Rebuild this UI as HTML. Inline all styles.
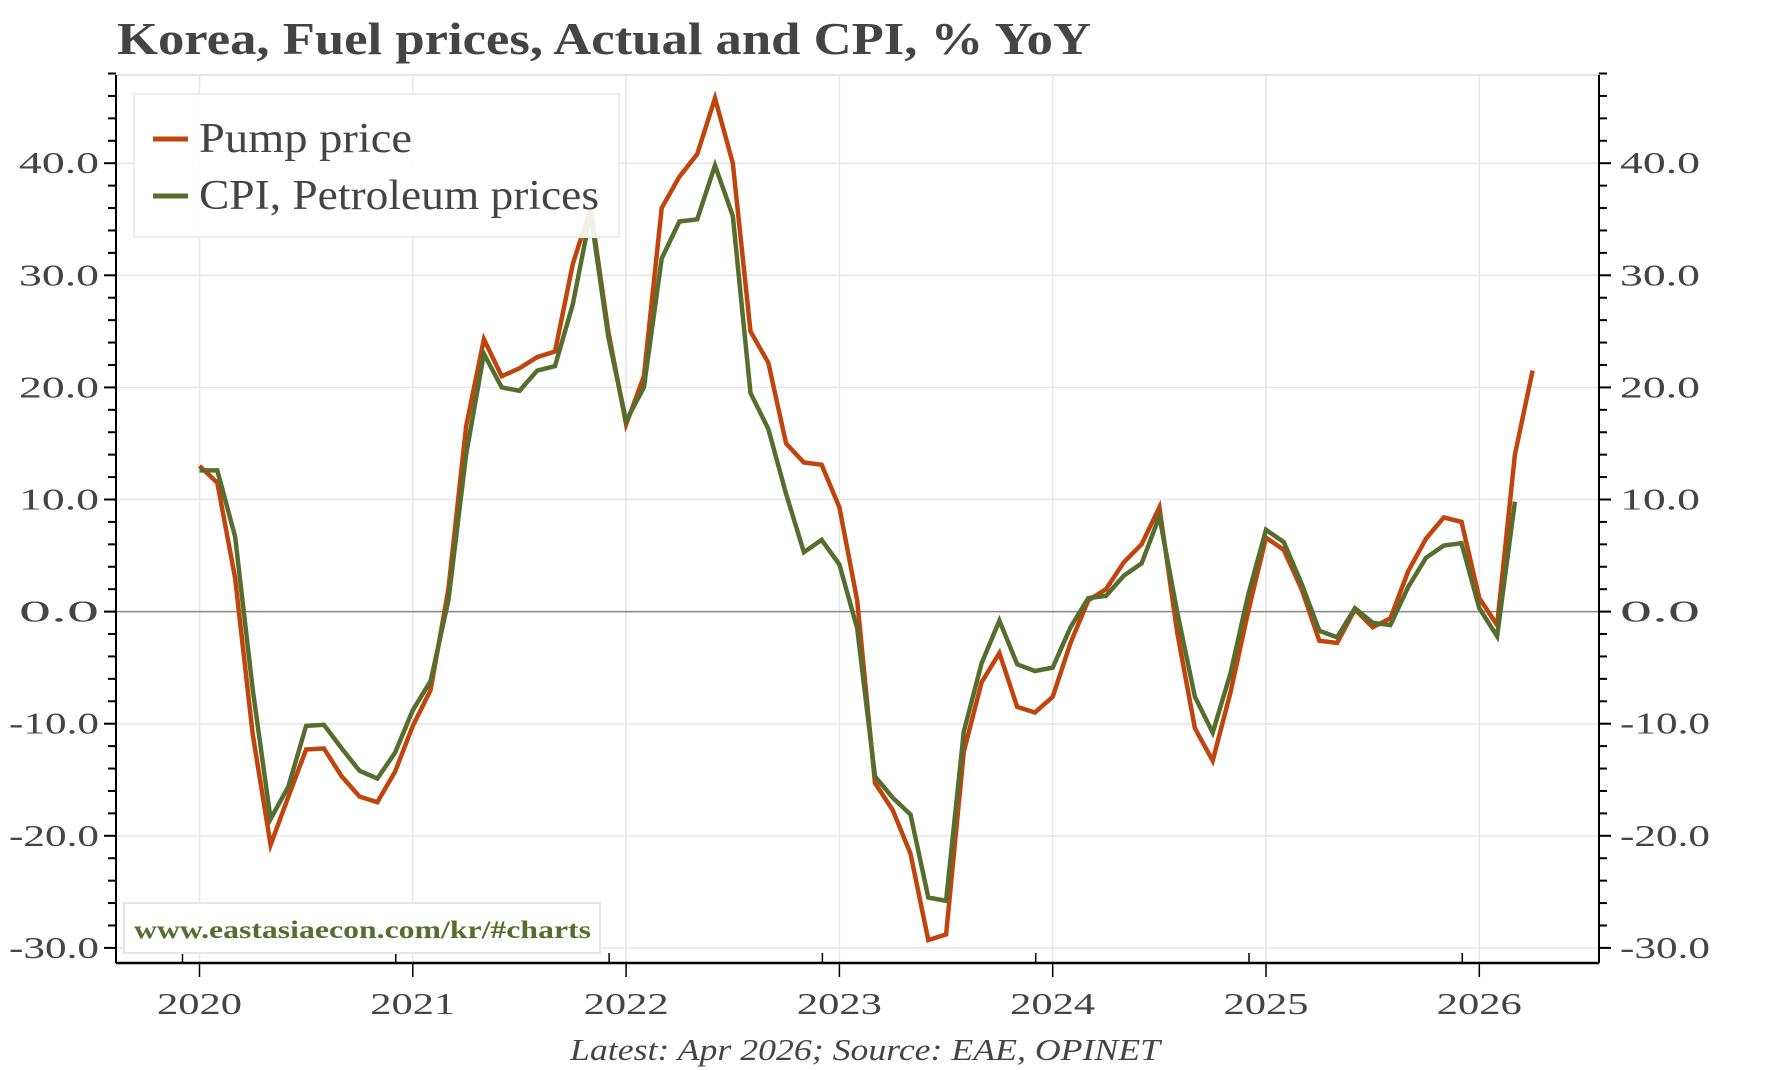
<!DOCTYPE html>
<html><head><meta charset="utf-8"><style>
body{margin:0;background:#fff}
svg{display:block;font-family:"Liberation Serif",serif}
</style></head><body>
<svg id="chart" width="1767" height="1070" viewBox="0 0 1767 1070" xmlns="http://www.w3.org/2000/svg">
<text x="117" y="54" font-size="46" font-weight="bold" fill="#444" textLength="974" lengthAdjust="spacingAndGlyphs">Korea, Fuel prices, Actual and CPI, % YoY</text>
<g id="grid"></g>
<g id="axes"></g>
<g id="series"></g>
<g>
<rect x="134" y="94" width="485" height="143" fill="#fff" fill-opacity="0.9" stroke="#eee" stroke-width="2"/>
<line x1="153" y1="139" x2="188" y2="139" stroke="#c0440c" stroke-width="5"/>
<text x="199" y="152" font-size="42" fill="#444" textLength="213" lengthAdjust="spacingAndGlyphs">Pump price</text>
<line x1="153" y1="196" x2="188" y2="196" stroke="#556e2e" stroke-width="5"/>
<text x="199" y="209" font-size="42" fill="#444" textLength="400" lengthAdjust="spacingAndGlyphs">CPI, Petroleum prices</text>
</g>
<g>
<rect x="124" y="903" width="476" height="50" fill="#fff" stroke="#e6e6e6" stroke-width="2"/>
<text x="134" y="938" font-size="25" font-weight="bold" fill="#556e2e" textLength="457" lengthAdjust="spacingAndGlyphs">www.eastasiaecon.com/kr/#charts</text>
</g>
<text x="865" y="1060" font-size="31" font-style="italic" fill="#444" text-anchor="middle" textLength="590" lengthAdjust="spacingAndGlyphs">Latest: Apr 2026; Source: EAE, OPINET</text>
</svg>
<script>
const pumpValues=[13,11.5,3,-11,-20.8,-16.5,-12.3,-12.2,-14.7,-16.5,-17,-14.3,
-10.2,-7,2,16.5,24.3,21,21.7,22.7,23.2,31,36,25,
16.7,21,36,38.8,40.8,45.8,40,25,22.2,15,13.3,13.1,
9.3,1,-15.3,-17.7,-21.6,-29.3,-28.8,-12.5,-6.3,-3.7,-8.5,-9,
-7.6,-2.8,1,2,4.4,6,9.3,-1.8,-10.4,-13.3,-7.2,0,
6.6,5.5,2,-2.6,-2.8,0.2,-1.4,-0.6,3.6,6.5,8.4,8,
1.2,-1.2,14,21.5];
const cpiValues=[12.6,12.6,6.7,-7,-18.5,-15.6,-10.2,-10.1,-12.2,-14.2,-14.9,-12.6,
-8.8,-6.2,1,14,23,20,19.7,21.5,21.9,27.4,35.5,24.5,
17,20,31.5,34.8,35,39.8,35.3,19.5,16.3,10.5,5.3,6.4,
4.2,-1.5,-14.7,-16.6,-18.1,-25.5,-25.8,-10.7,-4.6,-0.8,-4.7,-5.3,
-5,-1.4,1.2,1.4,3.2,4.3,8.5,0,-7.6,-10.8,-5.5,1.5,
7.3,6.2,2.5,-1.7,-2.3,0.3,-1,-1.2,2.2,4.8,5.9,6.1,
0.3,-2.2,9.8];
const yTicks=[-30,-20,-10,0,10,20,30,40];
const yearLabels=[2020,2021,2022,2023,2024,2025,2026];

const NS="http://www.w3.org/2000/svg";
const L=116,R=1599,T=75,B=963;
function xPos(monthIndex){return 199.5+monthIndex*(213.3/12);}
function yPos(v){return 611.6-v*11.21;}
function mk(tag,attrs,parent){const e=document.createElementNS(NS,tag);for(const k in attrs)e.setAttribute(k,attrs[k]);parent.appendChild(e);return e;}
const grid=document.getElementById('grid'),axes=document.getElementById('axes'),series=document.getElementById('series');
mk('rect',{x:L,y:T,width:R-L,height:B-T,fill:'none',stroke:'#e6e6e6','stroke-width':2},grid);
yearLabels.forEach((yr,i)=>{
  const x=xPos(i*12);
  const g=mk('line',{x1:x,y1:T,x2:x,y2:B,stroke:'#e6e6e6','stroke-width':1.5},grid);
  
  
  mk('line',{x1:x,y1:B,x2:x,y2:B+14,stroke:'#000','stroke-width':1.5},axes);
  mk('line',{x1:x-17,y1:B,x2:x-17,y2:B-10,stroke:'#000','stroke-width':1.5},axes);
  const t=mk('text',{x:x,y:1014,'font-size':31,fill:'#444','text-anchor':'middle',textLength:85,lengthAdjust:'spacingAndGlyphs'},axes);
  t.textContent=yr;
  
  
});
for(let v=-30;v<=48;v+=2){
  const y=yPos(v);const major=v%10===0;
  mk('line',{x1:L,y1:y,x2:L-(major?12:8),y2:y,stroke:'#000','stroke-width':2},axes);
  mk('line',{x1:R,y1:y,x2:R+(major?12:8),y2:y,stroke:'#000','stroke-width':2},axes);
}
yTicks.forEach(v=>{
  const y=yPos(v);
  const gl=mk('line',{x1:L,y1:y,x2:R,y2:y,stroke:v===0?'#888':'#e6e6e6','stroke-width':1.5},grid);
  
  
  const lab=v.toFixed(1);
  const w=lab.length<5?80:90;
  const t1=mk('text',{x:99-w,y:y+10,'font-size':31,fill:'#444',textLength:w,lengthAdjust:'spacingAndGlyphs'},axes);
  t1.textContent=lab;
  
  
  const t2=mk('text',{x:1620,y:y+10,'font-size':31,fill:'#444',textLength:w,lengthAdjust:'spacingAndGlyphs'},axes);
  t2.textContent=lab;
  
  
});
mk('line',{x1:L,y1:T,x2:L,y2:B,stroke:'#000','stroke-width':2},axes);
mk('line',{x1:R,y1:T,x2:R,y2:B,stroke:'#000','stroke-width':2},axes);
mk('line',{x1:L,y1:B,x2:R,y2:B,stroke:'#000','stroke-width':2.5},axes);
function drawLine(vals,color,name){
  const d=vals.map((v,i)=>(i?'L':'M')+xPos(i).toFixed(1)+' '+yPos(v).toFixed(1)).join(' ');
  const p=mk('path',{d:d,fill:'none',stroke:color,'stroke-width':4.5,'stroke-linejoin':'miter'},series);
  
  
}
drawLine(pumpValues,'#c0440c','pump-price-line');
drawLine(cpiValues,'#556e2e','cpi-petroleum-line');
</script>
</body></html>
